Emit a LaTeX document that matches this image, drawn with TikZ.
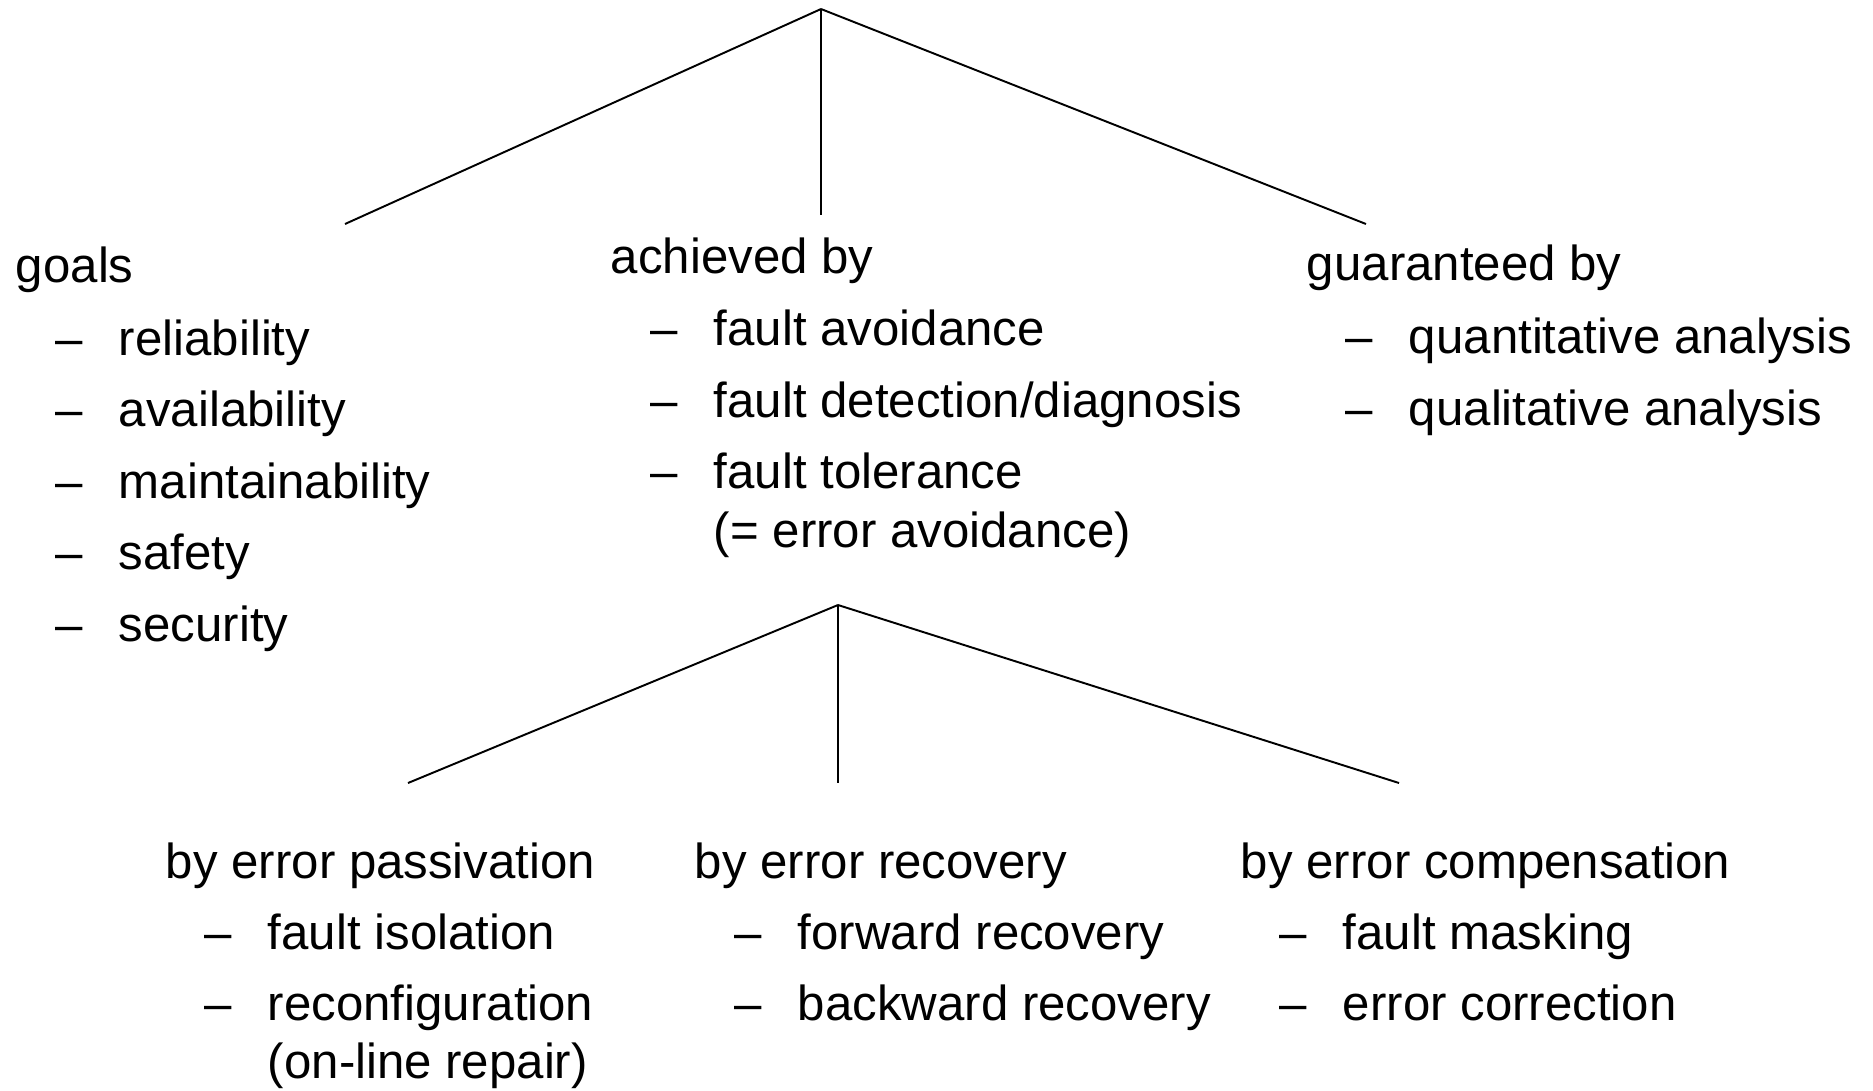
\documentclass[tikz,border=0pt]{standalone}
\usepackage{fontspec}
\setmainfont{Liberation Sans}
\usepackage{tikz}
\usetikzlibrary{positioning}

\newcommand{\itemdash}{\makebox[1.26cm][l]{--}}

\begin{document}
\begin{tikzpicture}[x=0.02cm, y=-0.02cm, line width=1.1pt,
    font=\fontsize{28}{31}\selectfont,
    head/.style={anchor=base west, inner sep=0pt},
    entry/.style={anchor=base west, inner sep=0pt}]
    \useasboundingbox (0,0) rectangle (1873,1090);

    % upper tree
    \coordinate (top) at (821,9);
    \coordinate (topl) at (345,224);
    \coordinate (topm) at (821,215);
    \coordinate (topr) at (1366,224);
    \draw (top) -- (topl);
    \draw (top) -- (topm);
    \draw (top) -- (topr);

    \node[head] (goals) at (15,282) {goals};
    \node[entry] (g1) at (55,355) {\itemdash reliability};
    \node[entry] (g2) at (55,426.5) {\itemdash availability};
    \node[entry] (g3) at (55,498) {\itemdash maintainability};
    \node[entry] (g4) at (55,569.5) {\itemdash safety};
    \node[entry] (g5) at (55,641) {\itemdash security};

    \node[head] (achv) at (610,273) {achieved by};
    \node[entry] (a1) at (650,345) {\itemdash fault avoidance};
    \node[entry] (a2) at (650,417) {\itemdash fault detection/diagnosis};
    \node[entry] (a3) at (650,488) {\itemdash fault tolerance};
    \node[entry] (a3b) at (713,547) {(= error avoidance)};

    \node[head] (guar) at (1306,280) {guaranteed by};
    \node[entry] (q1) at (1345,353) {\itemdash quantitative analysis};
    \node[entry] (q2) at (1345,425) {\itemdash qualitative analysis};

    % lower tree
    \coordinate (sub) at (838,605);
    \coordinate (subl) at (408,783);
    \coordinate (subm) at (838,783);
    \coordinate (subr) at (1399,783);
    \draw (sub) -- (subl);
    \draw (sub) -- (subm);
    \draw (sub) -- (subr);

    \node[head] (pass) at (165,878) {by error passivation};
    \node[entry] (p1) at (204,949) {\itemdash fault isolation};
    \node[entry] (p2) at (204,1020) {\itemdash reconfiguration};
    \node[entry] (p2b) at (267,1078) {(on-line repair)};

    \node[head] (reco) at (694,878) {by error recovery};
    \node[entry] (r1) at (734,949) {\itemdash forward recovery};
    \node[entry] (r2) at (734,1020) {\itemdash backward recovery};

    \node[head] (comp) at (1240,878) {by error compensation};
    \node[entry] (c1) at (1279,949) {\itemdash fault masking};
    \node[entry] (c2) at (1279,1020) {\itemdash error correction};
\end{tikzpicture}
\end{document}
